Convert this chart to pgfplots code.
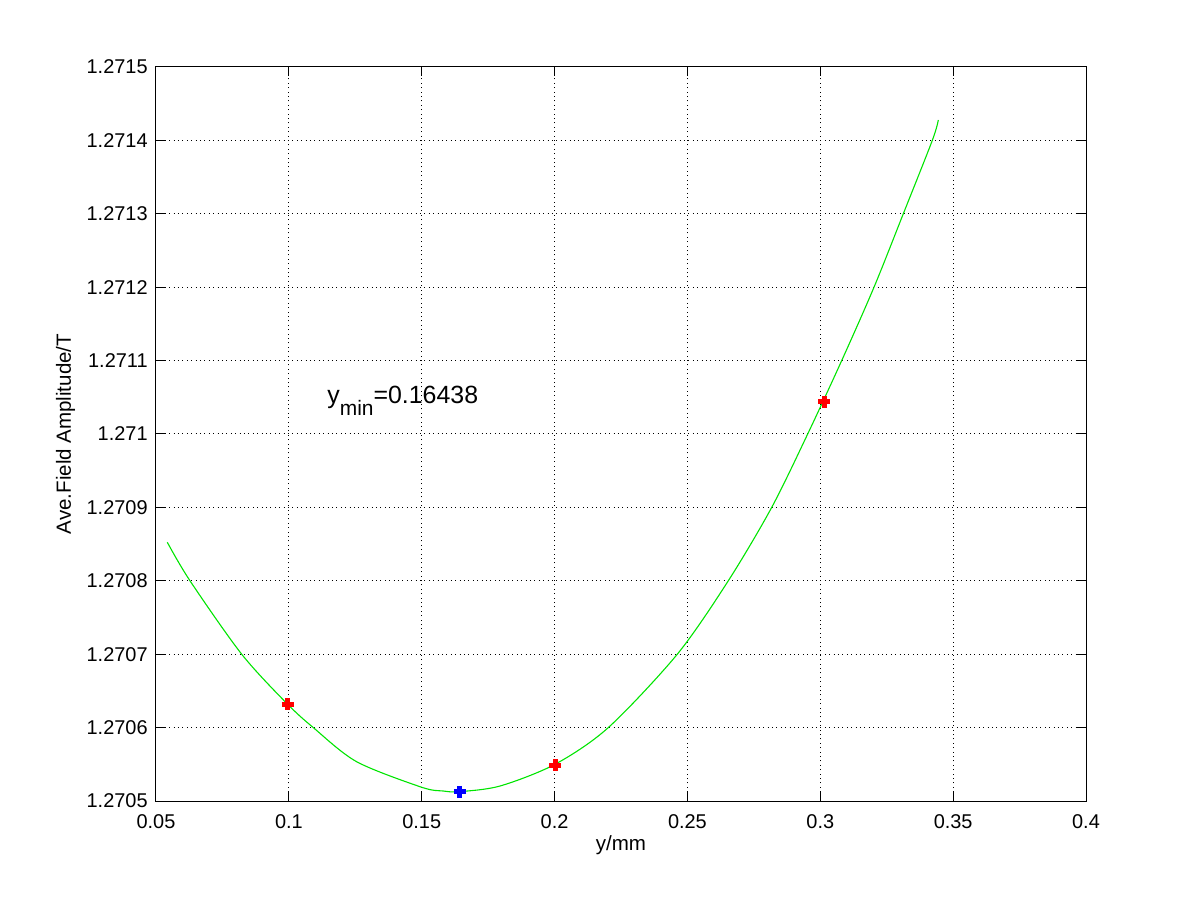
\documentclass[border=0pt]{standalone}
\usepackage{fontspec}
\setmainfont{Liberation Sans}
\usepackage{pgfplots}
\pgfplotsset{compat=1.18}
\begin{document}
\begin{tikzpicture}[x=1bp,y=1bp]
\path[use as bounding box] (-78bp,-49.5bp) rectangle (522bp,400.5bp);
\begin{axis}[
  scale only axis,
  width=465bp, height=367bp,
  at={(0,0)}, anchor=south west,
  xmin=0.05, xmax=0.4,
  ymin=1.2705, ymax=1.2715,
  xtick={0.05,0.1,0.15,0.2,0.25,0.3,0.35,0.4},
  xticklabels={0.05,0.1,0.15,0.2,0.25,0.3,0.35,0.4},
  ytick={1.2705,1.2706,1.2707,1.2708,1.2709,1.271,1.2711,1.2712,1.2713,1.2714,1.2715},
  yticklabels={1.2705,1.2706,1.2707,1.2708,1.2709,1.271,1.2711,1.2712,1.2713,1.2714,1.2715},
  scaled x ticks=false, scaled y ticks=false,
  tick align=inside,
  major tick length=4.5bp,
  every tick/.style={black, line width=0.5bp},
  axis line style={black, line width=0.5bp},
  tick label style={font=\fontsize{10}{12}\selectfont, inner sep=0pt, text=black},
  xticklabel style={anchor=north, yshift=-6.5bp},
  yticklabel style={anchor=east, xshift=-4bp},
  grid=major,
  major grid style={black, line width=0.5bp, dash pattern=on 0.5bp off 1.7bp},
  xlabel={y/mm},
  ylabel={Ave.Field Amplitude/T},
  label style={font=\fontsize{10.3}{12}\selectfont, inner sep=0pt},
  xlabel style={at={(axis description cs:0.5,-0.0681)}, anchor=base},
  ylabel style={at={(axis description cs:-0.0914,0.5)}, anchor=base, rotate=0},
  clip=false,
]
\addplot[only marks, mark=+, mark size=3bp, red, line width=2.5bp] coordinates {
  (0.0995,1.270632) (0.2003,1.270549) (0.3014,1.271044)
};
\addplot[smooth, color={rgb,1:red,0;green,0.9;blue,0}, line width=0.55bp, mark=none] coordinates {
  (0.05425,1.2708525)
  (0.06280,1.2708)
  (0.08225,1.2707)
  (0.09919,1.2706331)
  (0.1092,1.2706)
  (0.12553,1.2705535)
  (0.1500,1.2705187)
  (0.15812,1.2705136)
  (0.16415,1.2705127)
  (0.17946,1.2705204)
  (0.20016,1.27055)
  (0.22022,1.2706)
  (0.24619,1.2707)
  (0.26538,1.2708)
  (0.28172,1.2709)
  (0.29526,1.2710)
  (0.30806,1.2711)
  (0.32022,1.2712)
  (0.33124,1.2713)
  (0.34216,1.2714)
  (0.34442,1.2714278)
};
\addplot[only marks, mark=+, mark size=3bp, blue, line width=2.5bp] coordinates {
  (0.16438,1.2705123)
};
\node[anchor=base west, inner sep=0pt, font=\fontsize{12.5}{14}\selectfont] at (axis cs:0.11436,1.2710418)
  {y\raisebox{-6.3bp}{\fontsize{10.5}{12}\selectfont min}=0.16438};
\end{axis}
\end{tikzpicture}
\end{document}
